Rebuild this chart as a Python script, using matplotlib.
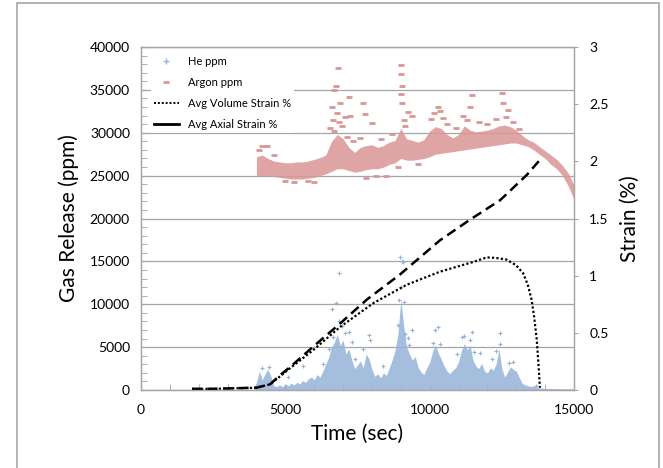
import matplotlib.pyplot as plt
from matplotlib.patches import Rectangle
from matplotlib.ticker import MultipleLocator

plt.rcParams['font.family'] = ['Lato', 'DejaVu Sans']

# He ppm: dense cloud (time, top of the dense core) and scattered outliers
he_t = [3900, 4000, 4100, 4200, 4300, 4400, 4500, 4600, 4700, 4800, 4900, 5000, 5100,
        5200, 5300, 5400, 5500, 5600, 5700, 5800, 5900, 6000, 6100, 6200, 6300, 6400,
        6500, 6600, 6700, 6800, 6900, 7000, 7100, 7200, 7300, 7400, 7500, 7600, 7700,
        7800, 7900, 8000, 8100, 8200, 8300, 8400, 8500, 8600, 8700, 8800, 8900, 9000,
        9050, 9100, 9200, 9300, 9400, 9500, 9600, 9700, 9800, 9900, 10000, 10100, 10200,
        10300, 10400, 10500, 10600, 10700, 10800, 10900, 11000, 11100, 11200, 11300,
        11400, 11500, 11600, 11700, 11800, 11900, 12000, 12100, 12200, 12300, 12400,
        12500, 12600, 12700, 12800, 12900, 13000, 13100, 13200, 13300, 13400, 13500,
        13600, 13700, 13800, 13900, 14500, 15000]
he_top = [0, 900, 2200, 1200, 1900, 2400, 1600, 500, 400, 600, 400, 700, 500,
          800, 600, 900, 700, 1100, 900, 1300, 1500, 1200, 1800, 1500, 2200, 3000,
          3800, 5000, 5600, 6500, 5200, 5800, 4200, 4800, 3500, 2500, 2900, 3400, 2600,
          4200, 3600, 2400, 1600, 1900, 1400, 2000, 1700, 2600, 3500, 4600, 6500, 10500,
          9000, 7500, 5000, 4200, 3500, 3900, 2600, 2100, 1800, 2600, 3200, 4500, 5200,
          4300, 3600, 2800, 2200, 1900, 2300, 2600, 3300, 4600, 5400, 4700,
          5200, 3500, 2800, 2500, 3100, 2200, 2000, 2600, 2300, 3000, 4800,
          2500, 1500, 2100, 2700, 2400, 2200, 1500, 800, 600, 500, 400,
          500, 300, 250, 200, 150, 150]
he_pts_t = [4200, 4450, 5100, 5600, 6300, 6600, 6750, 6870, 6850, 6950, 7200, 7300,
            7700, 7900, 7950, 8400, 8900, 8940, 8970, 9030, 9080, 9000, 9100, 9150,
            9400, 9300, 10190, 10280, 10100, 11110, 11200, 11460, 11400, 11750, 12440,
            12450, 12300, 12750, 13700, 6500, 6650, 7050, 7400, 9250, 10350, 10950,
            11550, 12150, 12900]
he_pts_v = [2600, 2700, 1500, 2800, 3000, 9500, 10100, 13600, 8000, 7500, 6800, 5600,
            4800, 6400, 5800, 2800, 7600, 10500, 15500, 15100, 14900, 12000, 10300, 6500,
            7000, 5200, 7000, 7300, 5500, 6200, 6300, 6800, 5800, 4300, 6600,
            5400, 4500, 3100, 500, 4800, 6200, 6600, 3600, 6100, 5400, 4200,
            4400, 3600, 3300]

# Argon ppm: dense band (low / high edge) and scattered outliers
ar_t = [4000, 4200, 4400, 4600, 4800, 5000, 5200, 5400, 5600, 5800, 6000, 6200, 6400,
        6600, 6800, 7000, 7200, 7400, 7600, 7800, 8000, 8200, 8400, 8600, 8800, 9000,
        9200, 9400, 9600, 9800, 10000, 10200, 10400, 10600, 10800, 11000, 11200, 11400,
        11600, 11800, 12000, 12200, 12400, 12600, 12800, 13000, 13200, 13400, 13600,
        13800, 14000, 14200, 14400, 14600, 14800, 15000]
ar_lo = [25000, 25000, 25000, 24900, 24800, 24700, 24600, 24600, 24600, 24700, 24800,
         25000, 25200, 25500, 25800, 25800, 25600, 25400, 25500, 25700, 25800, 25800,
         26000, 26300, 26500, 27000, 26800, 26800, 26900, 27000, 27200, 27500, 27600,
         27700, 27800, 27900, 28000, 28100, 28200, 28300, 28400, 28500, 28600, 28700,
         28800, 28800, 28600, 28400, 28000, 27500, 27000, 26300, 25800, 25000, 23800, 22200]
ar_hi = [27200, 27400, 27000, 26700, 26600, 26500, 26500, 26600, 26600, 26700, 26900,
         27100, 27400, 29000, 29800, 29300, 28300, 27700, 28300, 28500, 28600, 28300,
         28500, 28900, 29100, 30500, 29300, 29100, 28900, 29200, 30200, 30700, 30500,
         29800, 29400, 29800, 30800, 30300, 30100, 30200, 30300, 30500, 30800, 30900,
         30700, 30300, 29700, 29200, 28900, 28400, 27900, 27400, 26900, 26200, 25300, 23900]
ar_pts_t = [4200, 4350, 5000, 6000, 6600, 6700, 6750, 6830, 6900, 7200, 7250, 7700, 7750,
            8000, 7800, 8150, 8500, 9000, 9020, 9050, 9000, 9030, 9250, 9400, 10300,
            10350, 11450, 11400, 12500, 12550, 12700, 6550, 6650, 6700, 6800, 6850,
            6950, 7050, 7150, 7350, 7600, 8300, 8700, 9100, 9150, 10050, 10150, 10450,
            10600, 10900, 11150, 11300, 11700, 12000, 12300, 12650, 12900, 13100, 4100,
            4600, 5300, 5800, 8900, 9600]
ar_pts_v = [28500, 28400, 24400, 24300, 33000, 35000, 35500, 37500, 33500, 34200, 32000,
            33500, 32200, 31100, 24700, 25000, 24900, 37900, 36800, 35500, 34500, 33500,
            32400, 32000, 33000, 32500, 34400, 33000, 34600, 33500, 32700, 30500, 31500,
            30200, 32300, 31200, 30800, 31800, 29500, 29000, 29400, 29300, 29800, 31500,
            30800, 31600, 32300, 31700, 31000, 30500, 32000, 31500, 31300, 31000, 31600,
            31800, 31200, 30400, 28000, 27400, 24300, 24400, 26000, 26300]

# strain curves (right axis)
axial_t = [1770, 2500, 3200, 4000, 4470, 4820, 5160, 5970, 6890, 7820, 8970, 10360,
           11400, 12440, 13360, 13880]
axial_s = [0.01, 0.01, 0.015, 0.02, 0.05, 0.13, 0.20, 0.38, 0.58, 0.79, 1.01, 1.31,
           1.49, 1.66, 1.88, 2.03]
vol_t = [1770, 2500, 3200, 4000, 4470, 4820, 5160, 5970, 6890, 8050, 9200, 10360, 11510,
         11980, 12300, 12670, 13000, 13240, 13400, 13530, 13620, 13710, 13770, 13820]
vol_s = [0.01, 0.01, 0.015, 0.02, 0.05, 0.12, 0.19, 0.35, 0.55, 0.76, 0.92, 1.035, 1.12,
         1.16, 1.155, 1.14, 1.09, 1.02, 0.92, 0.79, 0.64, 0.44, 0.22, 0.02]

he_col = '#95B3D7'
ar_col = '#D99694'
grey = '#A6A6A6'

fig = plt.figure(figsize=(6.63, 4.68), dpi=100)
ax = fig.add_axes([141 / 663, 1 - 390 / 468, 433 / 663, 343 / 468])
ax2 = ax.twinx()

# gas release (left axis)
ax.fill_between(he_t, 0, he_top, color=he_col, linewidth=0, alpha=0.85, zorder=2)
ax.scatter(he_pts_t, he_pts_v, marker='+', s=12, color=he_col, linewidths=0.8, zorder=2)
ax.fill_between(ar_t, ar_lo, ar_hi, color=ar_col, linewidth=0, alpha=0.85, zorder=2)
ax.scatter(ar_pts_t, ar_pts_v, marker='_', s=14, color=ar_col, linewidths=2, zorder=2)

ax.set_xlim(0, 15000)
ax.set_ylim(0, 40000)
ax.xaxis.set_major_locator(MultipleLocator(5000))
ax.xaxis.set_minor_locator(MultipleLocator(1000))
ax.yaxis.set_major_locator(MultipleLocator(5000))
ax.yaxis.set_minor_locator(MultipleLocator(1000))
ax.tick_params(which='both', direction='in', length=4, color=grey, labelsize=10, pad=8)
ax.tick_params(axis='x', pad=10)
ax.grid(axis='y', which='major', color=grey, linewidth=0.9)
ax.set_axisbelow(True)
ax.set_xlabel('Time (sec)', fontsize=15, labelpad=6)
ax.set_ylabel('Gas Release (ppm)', fontsize=15, labelpad=8)

# strain (right axis)
ax2.plot(vol_t, vol_s, color='black', linestyle=(0, (1, 1)), linewidth=1.6)
ax2.plot(axial_t, axial_s, color='black', linestyle=(0, (4, 2.2)), linewidth=1.8)
ax2.set_ylim(0, 3)
ax2.set_yticks([0, 0.5, 1, 1.5, 2, 2.5, 3])
ax2.set_yticklabels(['0', '0.5', '1', '1.5', '2', '2.5', '3'])
ax2.tick_params(direction='out', length=3, color=grey, labelsize=10, pad=8)
ax2.set_ylabel('Strain (%)', fontsize=15, labelpad=8)

for a in (ax, ax2):
    for s in a.spines.values():
        s.set_color(grey)
        s.set_linewidth(0.9)

# legend
h_he = plt.Line2D([], [], color=he_col, marker='+', linestyle='none', markersize=4)
h_ar = plt.Line2D([], [], color=ar_col, marker='_', linestyle='none', markersize=5, mew=2)
h_vol = plt.Line2D([], [], color='black', linestyle=(0, (1, 1)), linewidth=1.4)
h_ax = plt.Line2D([], [], color='black', linestyle='-', linewidth=2)
leg = ax2.legend([h_he, h_ar, h_vol, h_ax],
                 ['He ppm', 'Argon ppm', 'Avg Volume Strain %', 'Avg Axial Strain %'],
                 loc='upper left', bbox_to_anchor=(0.01, 1.0), frameon=True,
                 fontsize=8, handlelength=2.2, labelspacing=0.9, borderpad=0.3)
leg.get_frame().set_edgecolor('none')
leg.get_frame().set_facecolor('white')
leg.get_frame().set_alpha(1)

# outer chart border
fig.patches.append(Rectangle((17 / 663, -0.05), (659 - 17) / 663, 1.05 - 3 / 468,
                             transform=fig.transFigure, fill=False,
                             edgecolor=grey, linewidth=1.2))

fig.savefig('out.png', dpi=100)
